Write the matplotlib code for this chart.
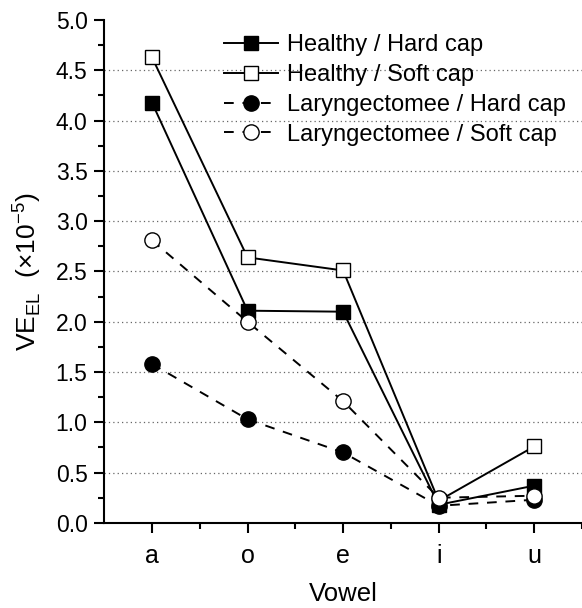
import numpy as np
import matplotlib.pyplot as plt
from matplotlib.ticker import MultipleLocator

plt.rcParams['font.family'] = ['Liberation Sans', 'DejaVu Sans']

vowels = ['a', 'o', 'e', 'i', 'u']
healthy_hard = [4.18, 2.11, 2.10, 0.18, 0.37]
healthy_soft = [4.63, 2.64, 2.51, 0.22, 0.76]
laryn_hard = [1.58, 1.03, 0.70, 0.17, 0.23]
laryn_soft = [2.81, 2.00, 1.21, 0.25, 0.27]

x = np.arange(1, len(vowels) + 1)

fig = plt.figure(figsize=(5.82, 6.08), dpi=100)
ax = fig.add_axes([0.179, 0.14, 0.821, 0.827])

ax.plot(x, healthy_hard, '-', color='black', lw=1.4, marker='s', ms=10,
        mfc='black', mec='black', label='Healthy / Hard cap')
ax.plot(x, healthy_soft, '-', color='black', lw=1.4, marker='s', ms=10,
        mfc='white', mec='black', label='Healthy / Soft cap')
ax.plot(x, laryn_hard, '--', color='black', lw=1.4, marker='o', ms=11,
        mfc='black', mec='black', dashes=(5, 4.5), label='Laryngectomee / Hard cap')
ax.plot(x, laryn_soft, '--', color='black', lw=1.4, marker='o', ms=11,
        mfc='white', mec='black', dashes=(5, 4.5), label='Laryngectomee / Soft cap')

ax.set_xlim(0.5, 5.5)
ax.set_ylim(0, 5.0)
ax.set_xticks(x)
ax.set_xticklabels(vowels)
ax.set_xticks(x + 0.5, minor=True)
ax.yaxis.set_major_locator(MultipleLocator(0.5))
ax.yaxis.set_minor_locator(MultipleLocator(0.25))
ax.yaxis.set_major_formatter(plt.FormatStrFormatter('%.1f'))

for yv in np.arange(0.5, 5.0, 0.5):
    ax.axhline(yv, color='#666666', lw=0.9, ls=(0, (1, 2.5)), zorder=0)

ax.spines['top'].set_visible(False)
ax.spines['right'].set_visible(False)
ax.spines['left'].set_linewidth(1.5)
ax.spines['bottom'].set_linewidth(1.5)
ax.tick_params(axis='both', which='major', direction='out', length=7, width=1.5,
               pad=5)
ax.tick_params(axis='y', which='major', labelsize=16.5)
ax.tick_params(axis='x', which='major', labelsize=18, pad=8)
ax.tick_params(axis='both', which='minor', direction='out', length=4.5, width=1.5)

ax.set_xlabel('Vowel', fontsize=18.5, labelpad=10)
ax.set_ylabel(r'VE$_{\mathregular{EL}}$  ($\mathregular{\times}$10$^{\mathregular{-5}}$)',
              fontsize=19, labelpad=9)

leg = ax.legend(loc='upper right', bbox_to_anchor=(0.995, 1.0), frameon=False,
                fontsize=17, handlelength=2.3, handletextpad=0.35,
                labelspacing=0.33, borderaxespad=0.2)

fig.savefig('out.png', dpi=100)
